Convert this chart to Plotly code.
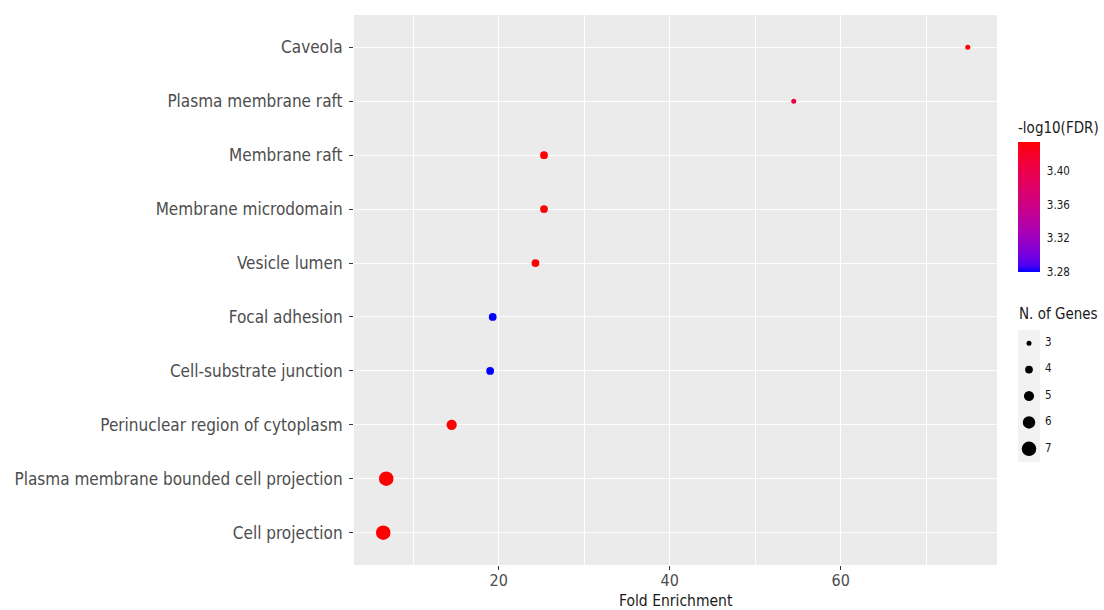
import numpy as np
import plotly.graph_objects as go

# GO cellular-component enrichment results (top to bottom)
terms = [
    "Caveola",
    "Plasma membrane raft",
    "Membrane raft",
    "Membrane microdomain",
    "Vesicle lumen",
    "Focal adhesion",
    "Cell-substrate junction",
    "Perinuclear region of cytoplasm",
    "Plasma membrane bounded cell projection",
    "Cell projection",
]
fold_enrichment = [74.85, 54.5, 25.3, 25.3, 24.3, 19.3, 19.0, 14.5, 6.85, 6.5]
n_genes = [3, 3, 4, 4, 4, 4, 4, 5, 7, 7]
neg_log10_fdr = [3.435, 3.405, 3.435, 3.435, 3.435, 3.28, 3.28, 3.435, 3.435, 3.435]

cbar_ticks = [3.28, 3.32, 3.36, 3.40]
size_breaks = [3, 4, 5, 6, 7]

W, H = 1104, 610
PANEL = dict(left=354, right=997, top=15, bottom=565)
CBAR = dict(left=1018, width=22, top=141, bottom=272, title_h=22)
FONT = "DejaVu Sans Condensed, DejaVu Sans"


# ---- blue -> red gradient interpolated in CIELAB ----
def _srgb_to_lab(rgb):
    c = np.array(rgb, float) / 255.0
    c = np.where(c <= 0.04045, c / 12.92, ((c + 0.055) / 1.055) ** 2.4)
    m = np.array([[0.4124, 0.3576, 0.1805],
                  [0.2126, 0.7152, 0.0722],
                  [0.0193, 0.1192, 0.9505]])
    xyz = m @ c / np.array([0.95047, 1.0, 1.08883])
    f = np.where(xyz > 0.008856, np.cbrt(xyz), 7.787 * xyz + 16 / 116)
    return np.array([116 * f[1] - 16, 500 * (f[0] - f[1]), 200 * (f[1] - f[2])])


def _lab_to_srgb(lab):
    L, a, b = lab
    fy_ = (L + 16) / 116
    f = np.array([fy_ + a / 500, fy_, fy_ - b / 200])
    xyz = np.where(f ** 3 > 0.008856, f ** 3, (f - 16 / 116) / 7.787)
    xyz = xyz * np.array([0.95047, 1.0, 1.08883])
    m = np.array([[3.2406, -1.5372, -0.4986],
                  [-0.9689, 1.8758, 0.0415],
                  [0.0557, -0.2040, 1.0570]])
    c = np.clip(m @ xyz, 0, 1)
    c = np.where(c <= 0.0031308, 12.92 * c, 1.055 * c ** (1 / 2.4) - 0.055)
    r, g, b2 = (np.clip(c, 0, 1) * 255).round().astype(int)
    return f"rgb({r},{g},{b2})"


lab_lo = _srgb_to_lab((0, 0, 255))
lab_hi = _srgb_to_lab((255, 0, 0))
colorscale = [[t, _lab_to_srgb(lab_lo + (lab_hi - lab_lo) * t)]
              for t in np.linspace(0, 1, 21)]


# ---- size scale: radius proportional to sqrt(count) ----
def point_diameter(n, lo=min(size_breaks), hi=max(size_breaks), dmin=5, dmax=14.5):
    t = (np.sqrt(n) - np.sqrt(lo)) / (np.sqrt(hi) - np.sqrt(lo))
    return dmin + (dmax - dmin) * t


def fx(px):
    return px / W


def fy(py):
    return 1 - py / H


cmin, cmax = min(neg_log10_fdr), max(neg_log10_fdr)
ypos = list(range(len(terms)))

fig = go.Figure()

fig.add_trace(go.Scatter(
    x=fold_enrichment,
    y=ypos,
    mode="markers",
    marker=dict(
        size=[point_diameter(n) for n in n_genes],
        color=neg_log10_fdr,
        colorscale=colorscale,
        cmin=cmin, cmax=cmax,
        line=dict(width=0),
        opacity=1,
        colorbar=dict(
            title=dict(text="-log10(FDR)", side="top",
                       font=dict(size=15, color="#1a1a1a", family=FONT)),
            x=fx(CBAR["left"]), xanchor="left",
            y=fy(CBAR["top"] - CBAR["title_h"]), yanchor="top",
            len=CBAR["bottom"] - CBAR["top"] + CBAR["title_h"], lenmode="pixels",
            thickness=CBAR["width"], thicknessmode="pixels",
            outlinewidth=0,
            tickvals=cbar_ticks,
            ticktext=[f"{v:.2f}" for v in cbar_ticks],
            ticks="outside", ticklen=5, tickcolor="rgba(0,0,0,0)",
            tickfont=dict(size=11.5, color="#1a1a1a", family=FONT),
            xpad=0, ypad=0,
        ),
    ),
    showlegend=False,
    hoverinfo="x+text",
    text=terms,
))

# ---- size legend drawn on its own small axes ----
fig.add_trace(go.Scatter(
    x=[11] * len(size_breaks),
    y=size_breaks,
    mode="markers",
    marker=dict(size=[point_diameter(n) for n in size_breaks], color="#000000",
                opacity=1, line=dict(width=0)),
    xaxis="x2", yaxis="y2",
    showlegend=False, hoverinfo="skip",
))
fig.add_trace(go.Scatter(
    x=[27] * len(size_breaks),
    y=size_breaks,
    mode="text",
    text=[str(n) for n in size_breaks],
    textposition="middle right",
    textfont=dict(size=11.5, color="#1a1a1a", family=FONT),
    xaxis="x2", yaxis="y2",
    showlegend=False, hoverinfo="skip",
))

span = max(fold_enrichment) - min(fold_enrichment)
xrange = [min(fold_enrichment) - 0.05 * span, max(fold_enrichment) + 0.05 * span]

# white tick marks drawn inside the colour bar, both edges
bar_px = CBAR["bottom"] - CBAR["top"]
tick_shapes = []
for v in cbar_ticks:
    py = CBAR["bottom"] - (v - cmin) / (cmax - cmin) * bar_px
    for x0, x1 in [(CBAR["left"], CBAR["left"] + 4),
                   (CBAR["left"] + CBAR["width"] - 4, CBAR["left"] + CBAR["width"])]:
        tick_shapes.append(dict(type="line", xref="paper", yref="paper",
                                x0=fx(x0), x1=fx(x1), y0=fy(py), y1=fy(py),
                                line=dict(color="white", width=1)))

fig.update_layout(
    width=W, height=H,
    margin=dict(l=0, r=0, t=0, b=0),
    paper_bgcolor="white",
    plot_bgcolor="rgba(0,0,0,0)",
    font=dict(family=FONT, color="#4d4d4d"),
    xaxis=dict(
        domain=[fx(PANEL["left"]), fx(PANEL["right"])],
        range=xrange,
        tickvals=[20, 40, 60],
        showgrid=True, gridcolor="white", gridwidth=1.4,
        minor=dict(tickvals=[10, 30, 50, 70], showgrid=True,
                   gridcolor="white", gridwidth=0.6, ticks=""),
        zeroline=False, showline=False,
        ticks="outside", ticklen=4, tickcolor="#333333", tickwidth=1,
        ticklabelstandoff=-3,
        tickfont=dict(size=16, color="#4d4d4d", family=FONT),
        automargin=False,
        anchor="y",
    ),
    yaxis=dict(
        domain=[fy(PANEL["bottom"]), fy(PANEL["top"])],
        range=[len(terms) - 0.4, -0.6],
        tickvals=ypos,
        ticktext=terms,
        showgrid=True, gridcolor="white", gridwidth=1.4,
        zeroline=False, showline=False,
        ticks="outside", ticklen=4, tickcolor="#333333", tickwidth=1,
        ticklabelstandoff=3,
        tickfont=dict(size=17, color="#4d4d4d", family=FONT),
        automargin=False,
        anchor="x",
    ),
    xaxis2=dict(
        domain=[fx(1018), fx(1100)],
        range=[0, 82],
        visible=False, fixedrange=True,
        anchor="y2",
    ),
    yaxis2=dict(
        domain=[fy(462), fy(330)],
        range=[max(size_breaks) + 0.5, min(size_breaks) - 0.5],
        visible=False, fixedrange=True,
        anchor="x2",
    ),
    shapes=[
        # grey panel background
        dict(type="rect", xref="x domain", yref="y domain",
             x0=0, x1=1, y0=0, y1=1, fillcolor="#ebebeb",
             line=dict(width=0), layer="below"),
        # legend key background
        dict(type="rect", xref="x2", yref="y2",
             x0=0, x1=22, y0=min(size_breaks) - 0.5, y1=max(size_breaks) + 0.5,
             fillcolor="#f2f2f2", line=dict(width=0), layer="below"),
    ] + tick_shapes,
    annotations=[
        dict(text="Fold Enrichment", xref="x domain", yref="paper",
             x=0.5, y=fy(601), xanchor="center", yanchor="middle",
             showarrow=False, font=dict(size=15.5, color="#1a1a1a", family=FONT)),
        dict(text="N. of Genes", xref="paper", yref="paper",
             x=fx(1017), y=fy(314), xanchor="left", yanchor="middle",
             showarrow=False, font=dict(size=15, color="#1a1a1a", family=FONT)),
    ],
)

fig.write_html("out.html")
